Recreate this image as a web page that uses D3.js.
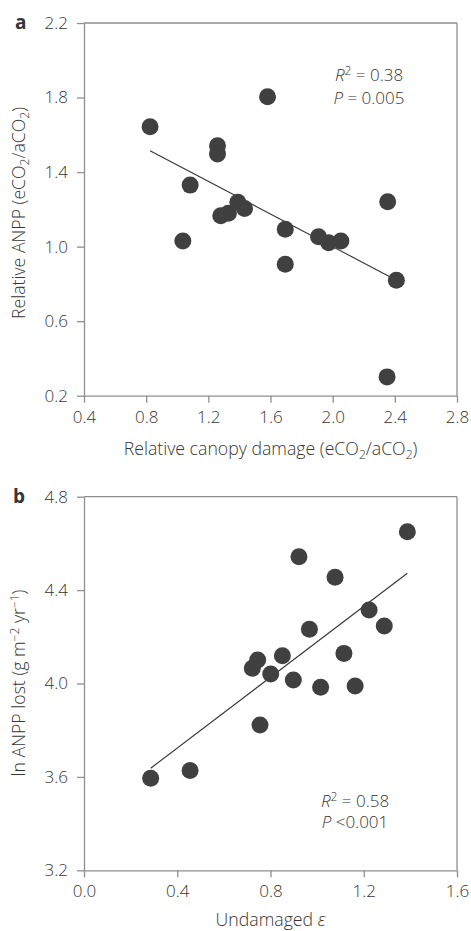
<!DOCTYPE html>
<html><head><meta charset="utf-8">
<script src="https://cdn.jsdelivr.net/npm/d3@7"></script>
<style>
body{margin:0;background:#fff}
svg{display:block}
text{font-family:"Open Sans",sans-serif;fill:#363636;font-weight:300}
</style>
</head><body>
<svg id="c" width="471" height="931"></svg>
<script>
// Panel a data
const damageA = [0.825,1.581,1.259,1.259,1.083,2.354,1.390,1.433,1.280,1.329,1.695,1.909,1.974,2.053,1.036,1.695,2.410,2.350];
const anppA   = [1.643,1.804,1.541,1.497,1.330,1.241,1.238,1.205,1.166,1.179,1.093,1.053,1.021,1.030,1.030,0.905,0.820,0.301];
const fitAx = [0.825, 2.41];
const fitAy = [1.515, 0.82];
const xTicksA = [0.4,0.8,1.2,1.6,2.0,2.4,2.8];
const yTicksA = [0.2,0.6,1.0,1.4,1.8,2.2];

// Panel b data
const epsB = [1.387,0.922,1.077,1.223,1.288,0.967,1.115,0.851,0.745,0.722,0.801,0.898,1.015,1.163,0.755,0.455,0.286];
const lnB  = [4.650,4.543,4.455,4.315,4.246,4.232,4.129,4.119,4.101,4.065,4.041,4.015,3.984,3.989,3.822,3.627,3.594];
const fitBx = [0.286, 1.387];
const fitBy = [3.637, 4.472];
const xTicksB = [0.0,0.4,0.8,1.2,1.6];
const yTicksB = [3.2,3.6,4.0,4.4,4.8];

const svg = d3.select("#c");
const axisCol = "#8f8f8f";
const dotCol = "#404040";
const fs = 17;
const tfs = 17.7;

function panel(o){
  const g = svg.append("g");
  const x = d3.scaleLinear().domain(o.xd).range([o.left,o.right]);
  const y = d3.scaleLinear().domain(o.yd).range([o.bottom,o.top]);
  g.append("line").attr("x1",o.left).attr("x2",o.right).attr("y1",o.top).attr("y2",o.top)
    .attr("stroke",axisCol).attr("stroke-width",1.3);
  g.append("line").attr("x1",o.right).attr("x2",o.right).attr("y1",o.top).attr("y2",o.bottom)
    .attr("stroke",axisCol).attr("stroke-width",1.3);
  const fmt = d3.format(".1f");
  const ax = g.append("g").attr("transform",`translate(0,${o.bottom})`)
    .call(d3.axisBottom(x).tickValues(o.xt).tickFormat(fmt).tickSize(7).tickSizeOuter(0).tickPadding(8));
  const ay = g.append("g").attr("transform",`translate(${o.left},0)`)
    .call(d3.axisLeft(y).tickValues(o.yt).tickFormat(fmt).tickSize(7).tickSizeOuter(0).tickPadding(9));
  [ax,ay].forEach(a=>{
    a.select(".domain").attr("stroke",axisCol).attr("stroke-width",1.3);
    a.selectAll(".tick line").attr("stroke",axisCol).attr("stroke-width",1.3);
    a.selectAll(".tick text").attr("font-size",fs).attr("fill","#363636")
      .style("font-family",'"Open Sans",sans-serif').style("font-weight",300);
  });
  g.append("line").attr("x1",x(o.fx[0])).attr("y1",y(o.fy[0])).attr("x2",x(o.fx[1])).attr("y2",y(o.fy[1]))
    .attr("stroke","#333").attr("stroke-width",1.1);
  g.selectAll("circle.p").data(o.xs.map((v,i)=>[v,o.ys[i]])).enter().append("circle")
    .attr("cx",d=>x(d[0])).attr("cy",d=>y(d[1])).attr("r",8.5).attr("fill",dotCol);
  g.append("text").attr("x",o.labX).attr("y",o.labY).attr("font-size",19)
    .style("font-weight","bold").attr("fill","#222").text(o.lab);
  return {g,x,y};
}

const A = panel({xd:[0.4,2.8],yd:[0.2,2.2],left:84,right:457,top:23,bottom:395.7,
  xt:xTicksA,yt:yTicksA,xs:damageA,ys:anppA,fx:fitAx,fy:fitAy,lab:"a",labX:15,labY:29});
const B = panel({xd:[0.0,1.6],yd:[3.2,4.8],left:84,right:457,top:496.7,bottom:870.3,
  xt:xTicksB,yt:yTicksB,xs:epsB,ys:lnB,fx:fitBx,fy:fitBy,lab:"b",labX:13,labY:503});

function stat(g,cx,y1,y2,r2,pstr){
  const t1 = g.append("text").attr("x",cx).attr("y",y1).attr("text-anchor","middle").attr("font-size",fs);
  t1.append("tspan").attr("font-style","italic").text("R");
  t1.append("tspan").attr("dy",-6).attr("font-size",12).text("2");
  t1.append("tspan").attr("dy",6).text(" = "+r2);
  const t2 = g.append("text").attr("x",cx).attr("y",y2).attr("text-anchor","middle").attr("font-size",fs);
  t2.append("tspan").attr("font-style","italic").text("P");
  t2.append("tspan").text(pstr);
}
stat(A.g,369,81,104,"0.38"," = 0.005");
stat(B.g,355,807,828,"0.58"," <0.001");

const tA = A.g.append("text").attr("x",270.5).attr("y",455).attr("text-anchor","middle").attr("font-size",tfs);
tA.append("tspan").text("Relative canopy damage (eCO");
tA.append("tspan").attr("dy",4).attr("font-size",12).text("2");
tA.append("tspan").attr("dy",-4).text("/aCO");
tA.append("tspan").attr("dy",4).attr("font-size",12).text("2");
tA.append("tspan").attr("dy",-4).text(")");

const yA = A.g.append("text").attr("transform","translate(25,213) rotate(-90)").attr("text-anchor","middle").attr("font-size",tfs);
yA.append("tspan").text("Relative ANPP (eCO");
yA.append("tspan").attr("dy",4).attr("font-size",12).text("2");
yA.append("tspan").attr("dy",-4).text("/aCO");
yA.append("tspan").attr("dy",4).attr("font-size",12).text("2");
yA.append("tspan").attr("dy",-4).text(")");

const tB = B.g.append("text").attr("x",270.5).attr("y",926).attr("text-anchor","middle").attr("font-size",tfs);
tB.append("tspan").text("Undamaged ");
tB.append("tspan").attr("font-style","italic").text("ε");

const yB = B.g.append("text").attr("transform","translate(25,683) rotate(-90)").attr("text-anchor","middle").attr("font-size",tfs);
yB.append("tspan").text("ln ANPP lost (g m");
yB.append("tspan").attr("dy",-6).attr("font-size",12).text("−2");
yB.append("tspan").attr("dy",6).text(" yr");
yB.append("tspan").attr("dy",-6).attr("font-size",12).text("−1");
yB.append("tspan").attr("dy",6).text(")");
</script>
</body></html>
